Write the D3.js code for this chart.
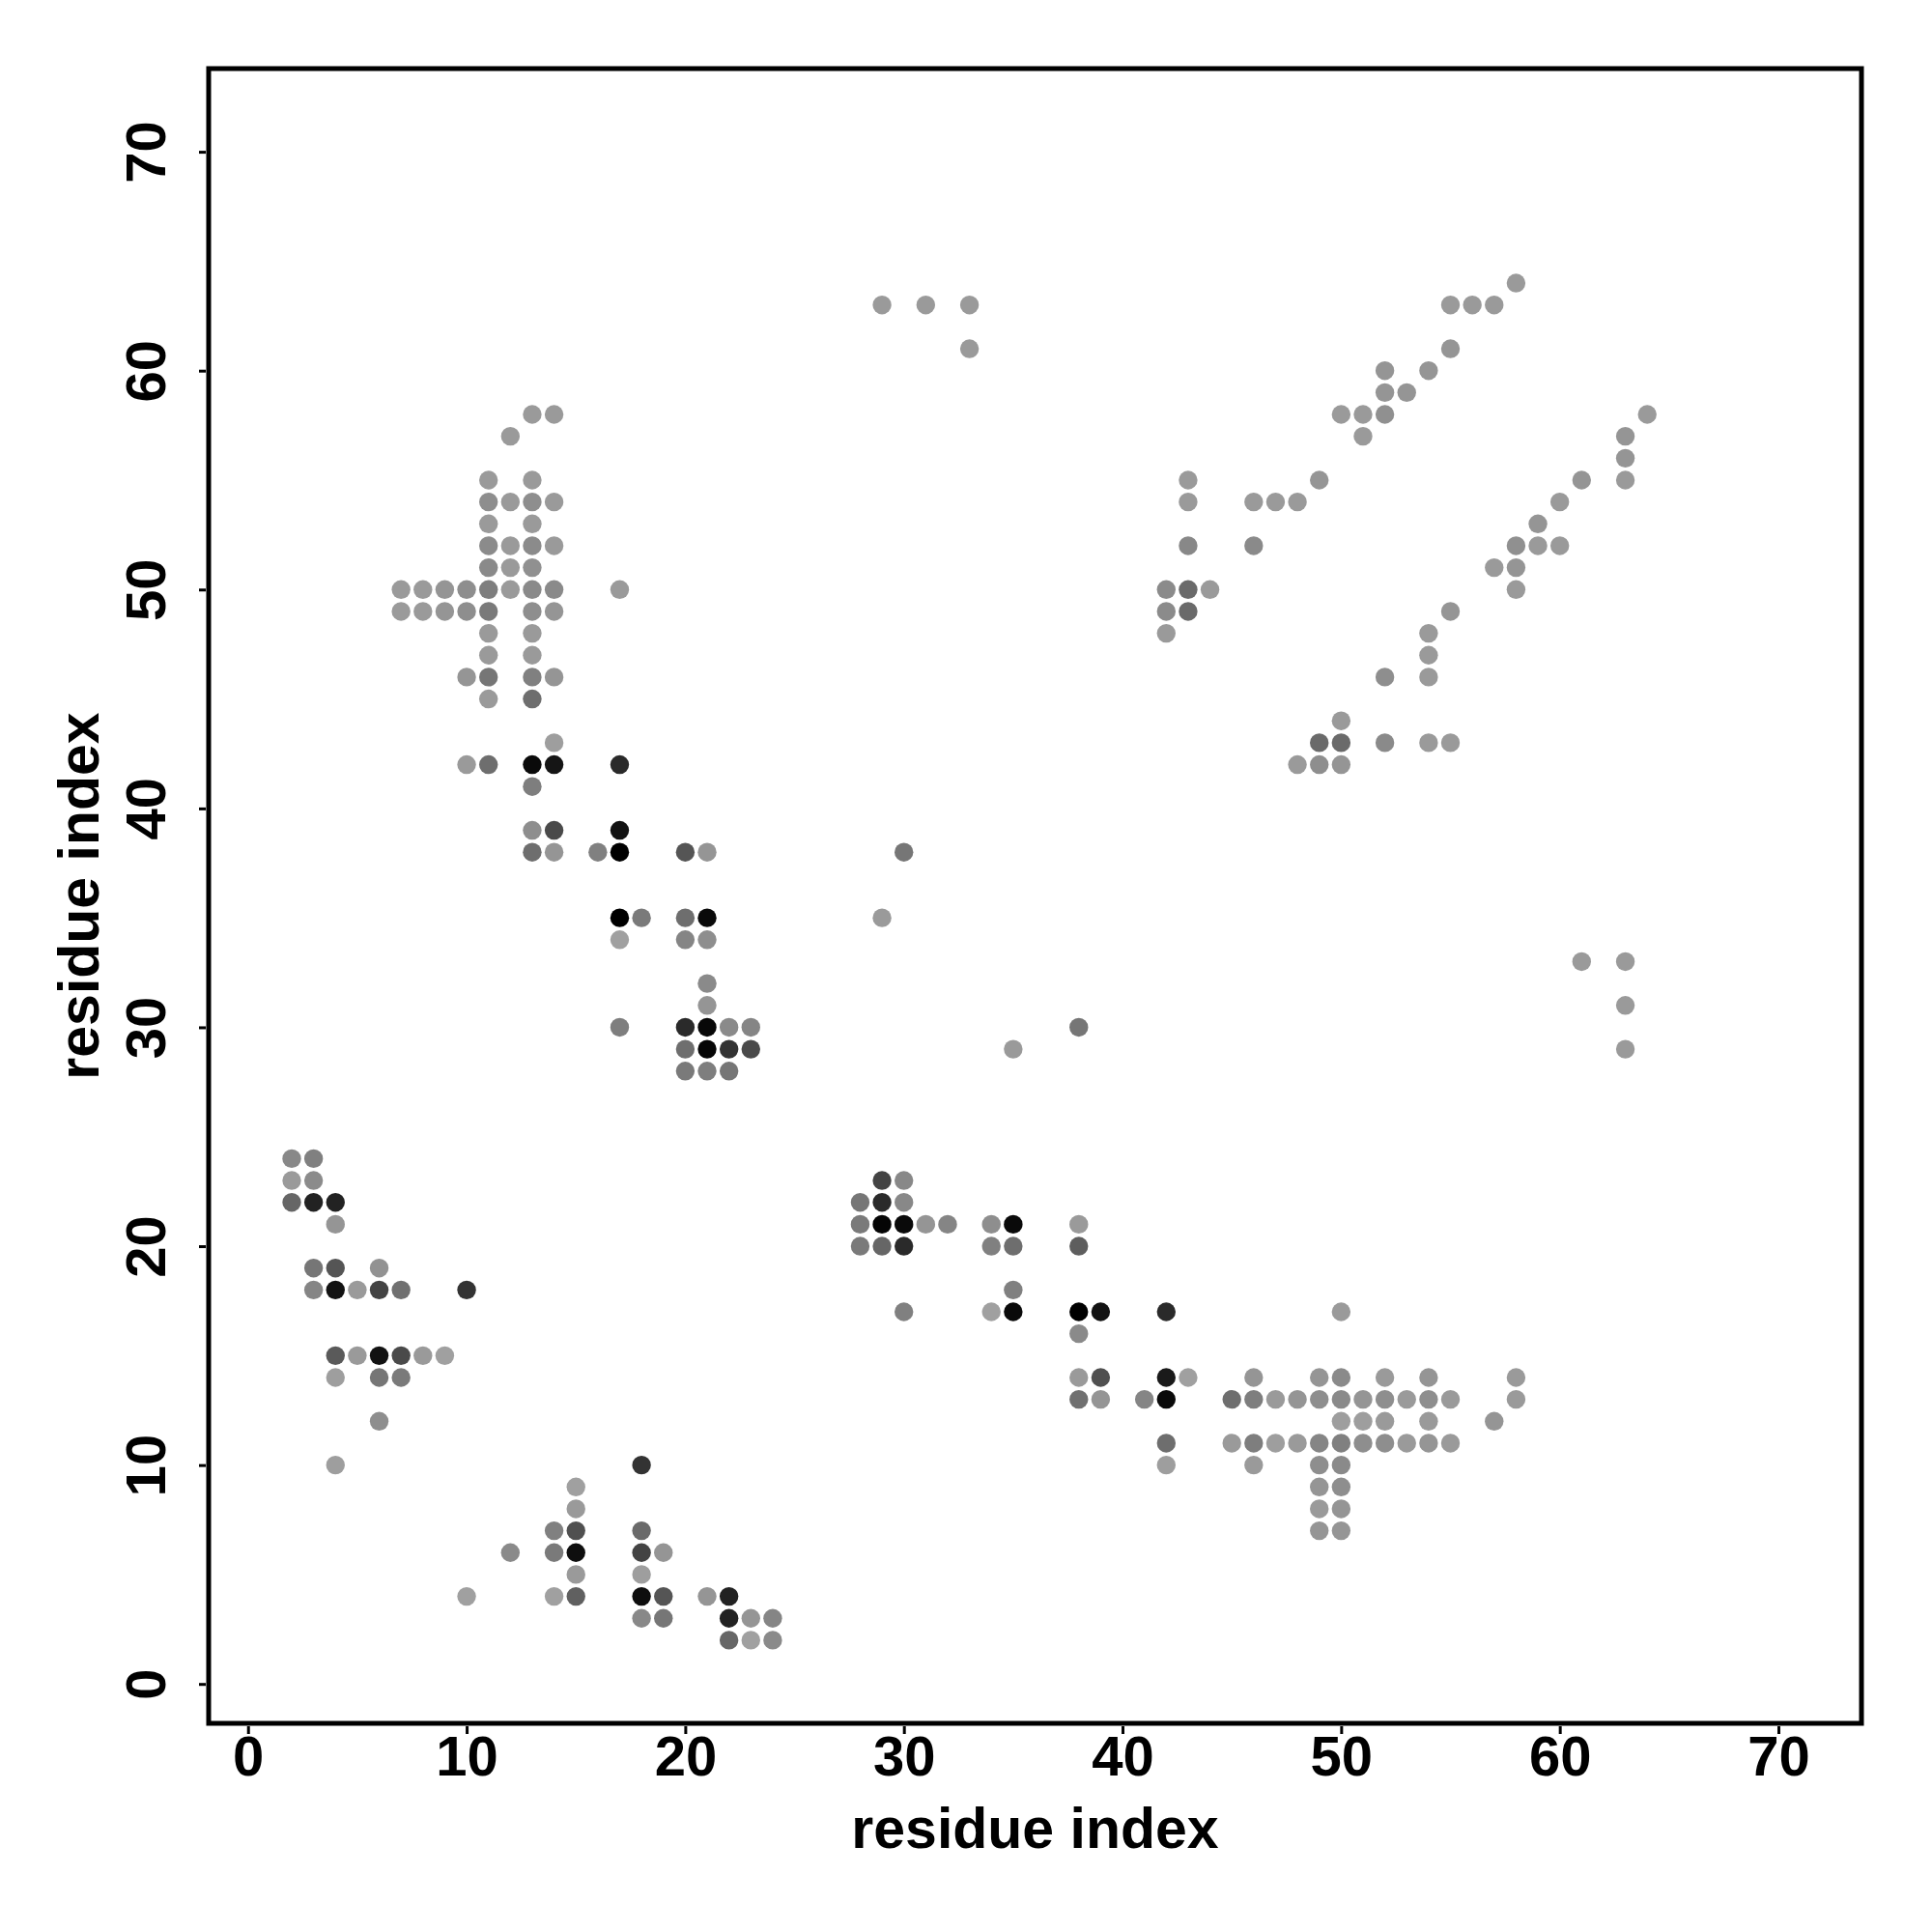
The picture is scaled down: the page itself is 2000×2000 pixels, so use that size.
<!DOCTYPE html>
<html>
<head>
<meta charset="utf-8">
<script src="https://cdn.jsdelivr.net/npm/d3@7"></script>
<style>
  body { margin: 0; background: #fff; }
  text { font-family: "Liberation Sans", Arial, Helvetica, sans-serif; font-weight: bold; }
</style>
</head>
<body>
<div id="chart"></div>
<script>
// contact map: residue i (x), residue j (y), contact strength 0..1 (light grey -> black)
const resI = [
  2,3, 2,3, 2,3,4, 4, 3,4,6, 3,4,5,6,7,10, 4,5,6,7,8,9, 4,6,7, 6, 4,18, 15, 15,
  14,15,18, 12,14,15,18,19, 15,18, 10,14,15,18,19,21,22, 18,19,22,23,24, 22,23,24,
  13,14, 12, 11,13, 11,12,13,14, 11,13, 11,12,13,14, 11,12,13,
  7,8,9,10,11,12,13,14,17, 7,8,9,10,11,13,14, 11,13, 11,13, 10,11,13,14, 11,13,
  14, 10,11,13,14,17, 13, 13,14,17, 13,14,16,17,20,21, 17,18,20,21, 17,20,21,
  21, 21, 17,20,21,22,23, 20,21,22,23, 20,21,22,
  29,30, 28,29,30, 28,29,30,31,32,34,35,38, 28,29,30,34,35,38, 35,
  30,34,35,38,39,42, 38, 38,39,42,43,46,49,50,52,54,58,
  38,39,41,42,45,46,47,48,49,50,51,52,53,54,55,58,
  50,51,52,54,57, 42,45,46,47,48,49,50,51,52,53,54,55,
  42,46,49,50, 49,50, 49,50, 49,50, 50,
  30, 29, 38, 35, 29,31,33, 33, 61,63, 63, 63,
  58, 55,56,57, 55, 52,54, 52,53, 50,51,52,64, 51,63, 63, 43,49,61,63,
  43,46,47,48,60, 59, 43,46,58,59,60, 57,58, 42,43,44,58, 42,43,55,
  42,54, 54, 52,54, 50, 49,50,52,54,55, 48,49,50
];
const resJ = [
  24,24, 23,23, 22,22,22, 21, 19,19,19, 18,18,18,18,18,18, 15,15,15,15,15,15, 14,14,14, 12, 10,10, 9, 8,
  7,7,7, 6,6,6,6,6, 5,5, 4,4,4,4,4,4,4, 3,3,3,3,3, 2,2,2,
  58,58, 57, 55,55, 54,54,54,54, 53,53, 52,52,52,52, 51,51,51,
  50,50,50,50,50,50,50,50,50, 49,49,49,49,49,49,49, 48,48, 47,47, 46,46,46,46, 45,45,
  43, 42,42,42,42,42, 41, 39,39,39, 38,38,38,38,38,38, 35,35,35,35, 34,34,34,
  32, 31, 30,30,30,30,30, 29,29,29,29, 28,28,28,
  23,23, 22,22,22, 21,21,21,21,21,21,21,21, 20,20,20,20,20,20, 18,
  17,17,17,17,17,17, 16, 14,14,14,14,14,14,14,14,14,14,
  13,13,13,13,13,13,13,13,13,13,13,13,13,13,13,13,
  12,12,12,12,12, 11,11,11,11,11,11,11,11,11,11,11,11,
  10,10,10,10, 9,9, 8,8, 7,7, 17,
  38, 35, 30, 29, 63,63,63, 61, 33,33, 31, 29,
  64, 63,63,63, 61, 60,60, 59,59, 58,58,58,58, 57,57, 56, 55,55,55,55,
  54,54,54,54,54, 53, 52,52,52,52,52, 51,51, 50,50,50,50, 49,49,49,
  48,48, 47, 46,46, 44, 43,43,43,43,43, 42,42,42
];
const strength = [
  .15,.20, .04,.13, .36,.79,.79, .07, .26,.47,.09, .17,.89,.04,.58,.30,.68, .44,.04,.89,.54,.04,0, .01,.26,.24, .11, .01,.68, 0, .04,
  .20,.50,.34, .14,.24,.91,.58,.07, .04,.01, 0,0,.40,.91,.47,.07,.79, .15,.26,.79,.07,.17, .36,0,.14,
  .04,.04, .04, .04,.04, .11,.04,.11,.04, .04,.04, .13,.04,.13,.04, .14,.04,.10,
  .04,.04,.07,.11,.21,.04,.14,.14,.04, .04,.04,.07,.11,.24,.11,.07, .04,.04, .04,.04, .07,.26,.20,.07, .04,.31,
  .01, .04,.31,.94,.87,.74, .21, .11,.54,.89, .31,.07,.20,1,.47,.07, 1,.24,.31,.94, 0,.17,.11,
  .14, .07, .21,.74,.95,.14,.17, .31,.96,.68,.54, .24,.21,.26,
  .58,.15, .26,.74,.15, .24,.97,.94,.07,.17,.11,.94,.04, .24,.36,.74,.20,.31,.41, .20,
  .20,0,.94,1,.89,.74, .14, .04,.50,.84,0,.07,.07,.14,.04,.07,.04,
  .30,.07,.17,.94,.31,.21,.04,.07,.11,.14,.07,.11,.04,.11,.04,.04,
  .01,.01,.04,.04,.07, .31,.04,.21,.01,.04,.17,.20,.11,.11,.04,.07,.04,
  .01,.04,.11,.14, .07,.11, .04,.07, .07,.07, .04,
  .26, .04, .26, .04, .04,.04,.04, .04, .04,.04, .04, .04,
  .04, .04,.04,.04, .07, .07,.07, .07,.07, .04,.04,.10,.04, .04,.07, .07, .04,.07,.07,.04,
  .04,.04,.04,.04,.04, .07, .15,.14,.10,.04,.04, .04,.07, .13,.34,.04,.04, .13,.34,.07,
  .04,.04, .04, .11,.04, .04, .34,.34,.14,.04,.04, .04,.11,.07
];
const tickValues = [0, 10, 20, 30, 40, 50, 60, 70];
const axisTitle = "residue index";

const contacts = resI.map((d, k) => ({ i: d, j: resJ[k], s: strength[k] }));

const width = 2000, height = 2000;
const box = { left: 216, right: 1927, top: 71, bottom: 1784 };

const svg = d3.select("#chart").append("svg")
    .attr("width", width)
    .attr("height", height)
    .style("background", "#fff");

const x = d3.scaleLinear().domain([-1.8, 73.8]).range([box.left, box.right]);
const y = d3.scaleLinear().domain([-1.8, 73.8]).range([box.bottom, box.top]);
const grey = d3.scaleLinear().domain([0, 1]).range(["#a0a0a0", "#000000"]);

// points
svg.append("g")
  .selectAll("circle")
  .data(contacts)
  .enter().append("circle")
    .attr("cx", d => x(d.i))
    .attr("cy", d => y(d.j))
    .attr("r", 9.7)
    .attr("fill", d => grey(d.s));

// frame
svg.append("rect")
    .attr("x", box.left)
    .attr("y", box.top)
    .attr("width", box.right - box.left)
    .attr("height", box.bottom - box.top)
    .attr("fill", "none")
    .attr("stroke", "#000")
    .attr("stroke-width", 5);

// x axis
const xAxis = svg.append("g")
    .attr("transform", `translate(0,${box.bottom + 3})`)
    .call(d3.axisBottom(x).tickValues(tickValues).tickSize(8).tickPadding(2));
xAxis.select(".domain").remove();
xAxis.selectAll("line").attr("stroke-width", 3);
xAxis.selectAll("text")
    .attr("font-size", "58px")
    .attr("font-family", null)
    .attr("fill", "#000");

// y axis, labels rotated like base R
const yAxis = svg.append("g")
    .attr("transform", `translate(${box.left - 3},0)`)
    .call(d3.axisLeft(y).tickValues(tickValues).tickSize(7));
yAxis.select(".domain").remove();
yAxis.selectAll("line").attr("stroke-width", 3);
yAxis.selectAll("text")
    .attr("x", null)
    .attr("dy", null)
    .attr("text-anchor", "middle")
    .attr("transform", "translate(-42,0) rotate(-90)")
    .attr("font-size", "58px")
    .attr("font-family", null)
    .attr("fill", "#000");

// axis titles
svg.append("text")
    .attr("x", (box.left + box.right) / 2)
    .attr("y", 1913)
    .attr("text-anchor", "middle")
    .style("font-size", "59px")
    .text(axisTitle);

svg.append("text")
    .attr("transform", `translate(102,${(box.top + box.bottom) / 2}) rotate(-90)`)
    .attr("text-anchor", "middle")
    .style("font-size", "59px")
    .text(axisTitle);
</script>
</body>
</html>
